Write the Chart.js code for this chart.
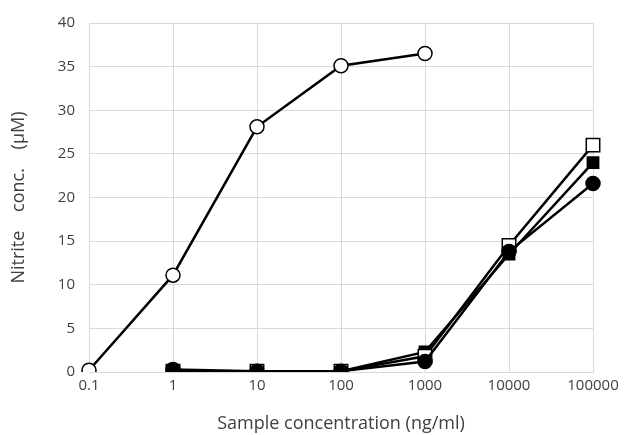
<!DOCTYPE html>
<html>
<head>
<meta charset="utf-8">
<script src="https://cdn.jsdelivr.net/npm/chart.js@4/dist/chart.umd.min.js"></script>
<style>
  html, body { margin: 0; padding: 0; background: #fff; }
  #wrap { width: 624px; height: 435px; position: relative; }
</style>
</head>
<body>
<div id="wrap"><canvas id="chart"></canvas></div>
<script>
// Sample concentrations (ng/ml), evenly spaced categories
const categories = ['0.1', '1', '10', '100', '1000', '10000', '100000'];

// Nitrite concentration (uM) per series
const openCircle   = [0.2, 11.1, 28.1, 35.1, 36.5, null, null];
const openSquare   = [null, 0.1, 0.1, 0.1, 1.8, 14.5, 26.0];
const filledCircle = [null, 0.3, 0.1, 0.1, 1.2, 13.8, 21.6];
const filledSquare = [null, 0.1, 0.1, 0.1, 2.3, 13.5, 24.0];

const yTicks = [0, 5, 10, 15, 20, 25, 30, 35, 40];

const textColor = '#404040';
const gridColor = '#d9d9d9';
const fontFamily = "'Open Sans', 'Liberation Sans', sans-serif";

function series(data, style, fill, radius) {
    return {
        data: data,
        borderColor: '#000',
        borderWidth: 2.5,
        pointStyle: style,
        pointRadius: radius,
        pointBackgroundColor: fill,
        pointBorderColor: '#000',
        pointBorderWidth: 1.5,
        spanGaps: false,
        tension: 0
    };
}

new Chart(document.getElementById('chart'), {
    type: 'line',
    data: {
        labels: categories,
        datasets: [
            series(openCircle, 'circle', '#fff', 7),
            series(filledCircle, 'circle', '#000', 7),
            series(openSquare, 'rect', '#fff', 9.5),
            series(filledSquare, 'rect', '#000', 8)
        ]
    },
    options: {
        responsive: true,
        maintainAspectRatio: false,
        animation: false,
        layout: { padding: { top: 12, right: 31, left: 8, bottom: 0 } },
        plugins: {
            legend: { display: false },
            tooltip: { enabled: false }
        },
        scales: {
            x: {
                type: 'category',
                offset: false,
                afterFit: function(axis) { axis.height = 63; },
                grid: { color: gridColor, lineWidth: 1, drawTicks: false },
                border: { color: gridColor },
                ticks: {
                    color: textColor,
                    font: { family: fontFamily, size: 15 },
                    padding: 5,
                    maxRotation: 0
                },
                title: {
                    display: true,
                    text: 'Sample concentration (ng/ml)',
                    color: textColor,
                    font: { family: fontFamily, size: 18 },
                    padding: { top: 6, bottom: 0 }
                }
            },
            y: {
                min: 0,
                max: 40,
                afterBuildTicks: function(axis) {
                    axis.ticks = yTicks.map(v => ({ value: v }));
                },
                afterFit: function(axis) { axis.width = 81; },
                grid: { color: gridColor, lineWidth: 1, drawTicks: false },
                border: { color: gridColor },
                ticks: {
                    color: textColor,
                    font: { family: fontFamily, size: 15 },
                    padding: 14
                },
                title: {
                    display: true,
                    text: 'Nitrite    conc.    (\u03bcM)',
                    color: textColor,
                    font: { family: fontFamily, size: 18 },
                    padding: { top: 0, bottom: 0 }
                }
            }
        }
    }
});
</script>
</body>
</html>
